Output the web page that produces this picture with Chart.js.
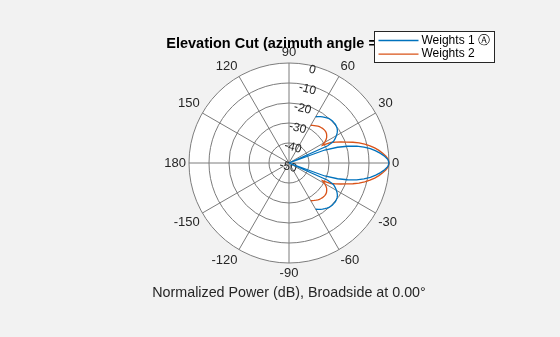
<!DOCTYPE html>
<html>
<head>
<meta charset="utf-8">
<script src="https://cdn.jsdelivr.net/npm/chart.js@4.4.0/dist/chart.umd.min.js"></script>
<style>
  html, body { margin: 0; padding: 0; background: #f2f2f2; }
</style>
</head>
<body>
<canvas id="myChart" width="560" height="337"></canvas>
<script>
// 고각 (elevation) 각도, 2도 간격
const elevAngles = [
  -60, -58, -56, -54, -52, -50, -48, -46, -44, -42, -40, -38, -36, -34, -32, -30,
  -28, -26, -24, -22, -20, -18, -16, -14, -12, -10, -8, -6, -4, -2, 0,
  2, 4, 6, 8, 10, 12, 14, 16, 18, 20, 22, 24, 26, 28, 30,
  32, 34, 36, 38, 40, 42, 44, 46, 48, 50, 52, 54, 56, 58, 60
];

// Weights 1 정규화 전력 (dB), -50 이하는 중심
const weights1 = [
  -23.3, -22.6, -22.0, -21.5, -21.0, -20.5, -20.1, -19.9, -19.8, -19.8, -19.8, -20.0, -20.3, -20.8, -21.6, -22.6,
  -23.8, -25.2, -28.8, -50, -31.0, -24.5, -19.6, -15.1, -11.7, -8.7, -6.2, -4.0, -2.1, -0.5, 0,
  -0.5, -2.1, -4.0, -6.2, -8.7, -11.7, -15.1, -19.6, -24.5, -31.0, -50, -28.8, -25.2, -23.8, -22.6,
  -21.6, -20.8, -20.3, -20.0, -19.8, -19.8, -19.8, -19.9, -20.1, -20.5, -21.0, -21.5, -22.0, -22.6, -23.3
];

// Weights 2 정규화 전력 (dB)
const weights2 = [
  -28.2, -27.8, -27.4, -27.0, -26.6, -26.3, -26.1, -25.9, -25.8, -25.8, -25.9, -26.2, -26.7, -27.3, -28.2, -29.5,
  -31.0, -26.6, -24.4, -22.0, -19.4, -16.4, -13.6, -11.0, -8.6, -6.5, -4.6, -2.9, -1.4, -0.3, 0,
  -0.3, -1.4, -2.9, -4.6, -6.5, -8.6, -11.0, -13.6, -16.4, -19.4, -22.0, -24.4, -26.6, -31.0, -29.5,
  -28.2, -27.3, -26.7, -26.2, -25.9, -25.8, -25.8, -25.9, -26.1, -26.3, -26.6, -27.0, -27.4, -27.8, -28.2
];

const seriesNames = ["Weights 1 \u24B6", "Weights 2"];
const seriesColors = ["#0072BD", "#D95319"];

// 각도 눈금 (도), 반경 눈금 (dB)
const thetaTicks = [0, 30, 60, 90, 120, 150, 180, -150, -120, -90, -60, -30];
const rTicks = [-50, -40, -30, -20, -10, 0];

const titleText = "Elevation Cut (azimuth angle = 0.0\u00B0)";
const xLabelText = "Normalized Power (dB), Broadside at 0.00\u00B0";

// 레이더 축: 2도 간격, 반시계 방향 (라벨 순서를 뒤집어서)
const angleStep = 2;
const firstAngle = 76; // 반경 눈금이 그려지는 방향
function wrapAngle(a) {
  while (a <= -180) a += 360;
  while (a > 180) a -= 360;
  return a;
}
const labels = [];
for (let i = 0; i < 360 / angleStep; i++) {
  labels.push(wrapAngle(firstAngle - i * angleStep));
}

function toRadar(values) {
  return labels.map((a) => {
    const k = elevAngles.indexOf(a);
    return k >= 0 ? values[k] : null;
  });
}

const gridColor = "#7c7c7c";
Chart.defaults.font.family = '"Liberation Sans", Arial, Helvetica, sans-serif';

// 범례 박스 (제목 위에 겹쳐 그림)
const legendBox = {
  id: "legendBox",
  afterDraw(chart) {
    const ctx = chart.ctx;
    const x = 374.5, y = 31.5, w = 120, h = 31;
    ctx.save();
    ctx.fillStyle = "#ffffff";
    ctx.fillRect(x, y, w, h);
    ctx.strokeStyle = "#262626";
    ctx.lineWidth = 1;
    ctx.strokeRect(x, y, w, h);
    ctx.font = '12px "Liberation Sans", Arial, sans-serif';
    ctx.textBaseline = "middle";
    chart.data.datasets.forEach((ds, i) => {
      const ly = y + 9 + i * 13.6;
      ctx.strokeStyle = ds.borderColor;
      ctx.lineWidth = 1.3;
      ctx.beginPath();
      ctx.moveTo(x + 4, ly);
      ctx.lineTo(x + 44, ly);
      ctx.stroke();
      ctx.fillStyle = "#000000";
      ctx.fillText(ds.label, x + 47, ly);
    });
    ctx.restore();
  },
};

const ctx = document.getElementById("myChart").getContext("2d");
const myChart = new Chart(ctx, {
  type: "radar",
  data: {
    labels: labels,
    datasets: [
      {
        label: seriesNames[0],
        data: toRadar(weights1),
        borderColor: seriesColors[0],
        borderWidth: 1.3,
        fill: false,
        pointRadius: 0,
        spanGaps: false,
      },
      {
        label: seriesNames[1],
        data: toRadar(weights2),
        borderColor: seriesColors[1],
        borderWidth: 1.3,
        fill: false,
        pointRadius: 0,
        spanGaps: false,
      },
    ],
  },
  options: {
    responsive: false,
    animation: false,
    layout: { padding: { left: 18, right: 0, top: 0, bottom: 0 } },
    plugins: {
      legend: { display: false },
      tooltip: { enabled: false },
      title: {
        display: true,
        text: titleText,
        color: "#000000",
        font: { size: 14.5, weight: "bold" },
        padding: { top: 35.3, bottom: -8.3 },
      },
      subtitle: {
        display: true,
        position: "bottom",
        text: xLabelText,
        color: "#262626",
        font: { size: 14.3 },
        padding: { top: 3, bottom: 35 },
      },
    },
    scales: {
      r: {
        min: -50,
        max: 0,
        startAngle: 90 - firstAngle,
        backgroundColor: "#ffffff",
        grid: { circular: true, color: gridColor, lineWidth: 1 },
        angleLines: {
          color: (c) => (thetaTicks.includes(labels[c.index]) ? gridColor : "rgba(0,0,0,0)"),
          lineWidth: (c) => (thetaTicks.includes(labels[c.index]) ? 1 : 0),
        },
        ticks: {
          stepSize: 10,
          color: "#262626",
          // 빈 첫 줄로 라벨을 링 안쪽으로 약간 이동
          font: { size: 12, lineHeight: "4px" },
          showLabelBackdrop: false,
          backdropPadding: 0,
          callback: (v) => ["", String(v)],
        },
        afterBuildTicks: (scale) => {
          scale.ticks = rTicks.map((v) => ({ value: v }));
        },
        pointLabels: {
          color: "#262626",
          font: { size: 13 },
          padding: -3,
          callback: (label) => (thetaTicks.includes(label) ? String(label) : ""),
        },
      },
    },
  },
  plugins: [legendBox],
});
</script>
</body>
</html>
